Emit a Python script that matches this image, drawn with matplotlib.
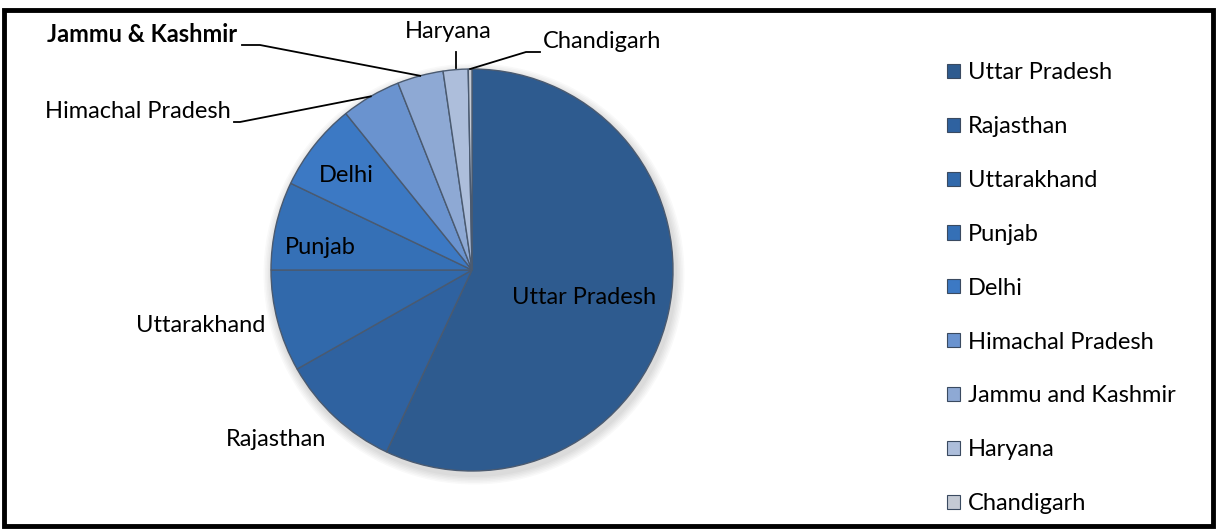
import numpy as np
import matplotlib.pyplot as plt
from matplotlib.patches import Rectangle

plt.rcParams['font.family'] = ['Lato', 'DejaVu Sans']

# Share of each state (percent)
states = ["Uttar Pradesh", "Rajasthan", "Uttarakhand", "Punjab", "Delhi",
          "Himachal Pradesh", "Jammu and Kashmir", "Haryana", "Chandigarh"]
shares = [57.0, 9.8, 8.2, 7.1, 7.1, 4.8, 3.7, 2.0, 0.3]
slice_labels = ["Uttar Pradesh", "Rajasthan", "Uttarakhand", "Punjab", "Delhi",
                "Himachal Pradesh", "Jammu & Kashmir", "Haryana", "Chandigarh"]
colors = ["#2E5B8F", "#2F62A0", "#3169AB", "#3570B6", "#3C79C4",
          "#6A93CF", "#8EA9D4", "#ADBEDB", "#C4CAD4"]

W, H = 1219, 532
fig = plt.figure(figsize=(W / 100, H / 100), dpi=100)
ax = fig.add_axes([0, 0, 1, 1])

# pixel coordinates (y measured from top) -> axes data coords
def px(x, y):
    return x, H - y

cx, cy = px(472, 270)
R = 201

# soft shadow under the pie
for i in range(6):
    ax.add_patch(plt.Circle((cx + 2, cy - 4), R + 2 + i * 1.5, color='black',
                            alpha=0.025, zorder=0.5, lw=0))

wedges, _ = ax.pie(shares, colors=colors, startangle=90, counterclock=False,
                   center=(cx, cy), radius=R, frame=True,
                   wedgeprops=dict(edgecolor='#4A5A70', linewidth=1.0))
ax.set_xlim(0, W)
ax.set_ylim(0, H)
ax.set_aspect('equal')
ax.axis('off')

fs = 17

def edge_point(w):
    ang = np.deg2rad((w.theta1 + w.theta2) / 2)
    return cx + R * np.cos(ang), cy + R * np.sin(ang)

# labels inside the pie
for i, pos in [(0, (584, 297)), (3, (320, 247)), (4, (346, 175))]:
    ax.text(*px(*pos), slice_labels[i], fontsize=fs, ha='center', va='center')

# labels outside without leader line
ax.text(*px(276, 440), slice_labels[1], fontsize=fs, ha='center', va='center')
ax.text(*px(201, 325), slice_labels[2], fontsize=fs, ha='center', va='center')

# Himachal Pradesh
ex, ey = edge_point(wedges[5])
ax.plot([234, 240, ex], [H - 122, H - 122, ey], color='black', lw=1.3)
ax.text(*px(231, 112), slice_labels[5], fontsize=fs, ha='right', va='center')

# Jammu & Kashmir
ex, ey = edge_point(wedges[6])
ax.plot([242, 260, ex], [H - 45, H - 45, ey], color='black', lw=1.3)
ax.text(*px(237, 34), slice_labels[6], fontsize=fs, ha='right', va='center',
        fontweight='bold')

# Haryana
ex, ey = edge_point(wedges[7])
ax.plot([ex, ex], [ey + 2, H - 52], color='black', lw=1.3)
ax.text(*px(448, 32), slice_labels[7], fontsize=fs, ha='center', va='center')

# Chandigarh
ex, ey = edge_point(wedges[8])
ax.plot([ex, 526, 540], [ey, H - 52, H - 52], color='black', lw=1.3)
ax.text(*px(543, 41), slice_labels[8], fontsize=fs, ha='left', va='center')

# legend
leg = ax.legend(wedges, states, loc='upper left',
                bbox_to_anchor=(938 / W, 1 - 53 / H),
                frameon=False, fontsize=fs, handlelength=0.55, handleheight=0.55,
                handletextpad=0.3, labelspacing=1.39, borderaxespad=0)
for h in leg.legend_handles:
    h.set_edgecolor('#3A4A60')
    h.set_linewidth(0.8)

# outer frame
fig.patches.append(Rectangle((4 / W, 6 / H), 1 - 10 / W, 1 - 16 / H,
                             transform=fig.transFigure, fill=False,
                             edgecolor='black', linewidth=3.5))

fig.savefig('out.png', dpi=100)
